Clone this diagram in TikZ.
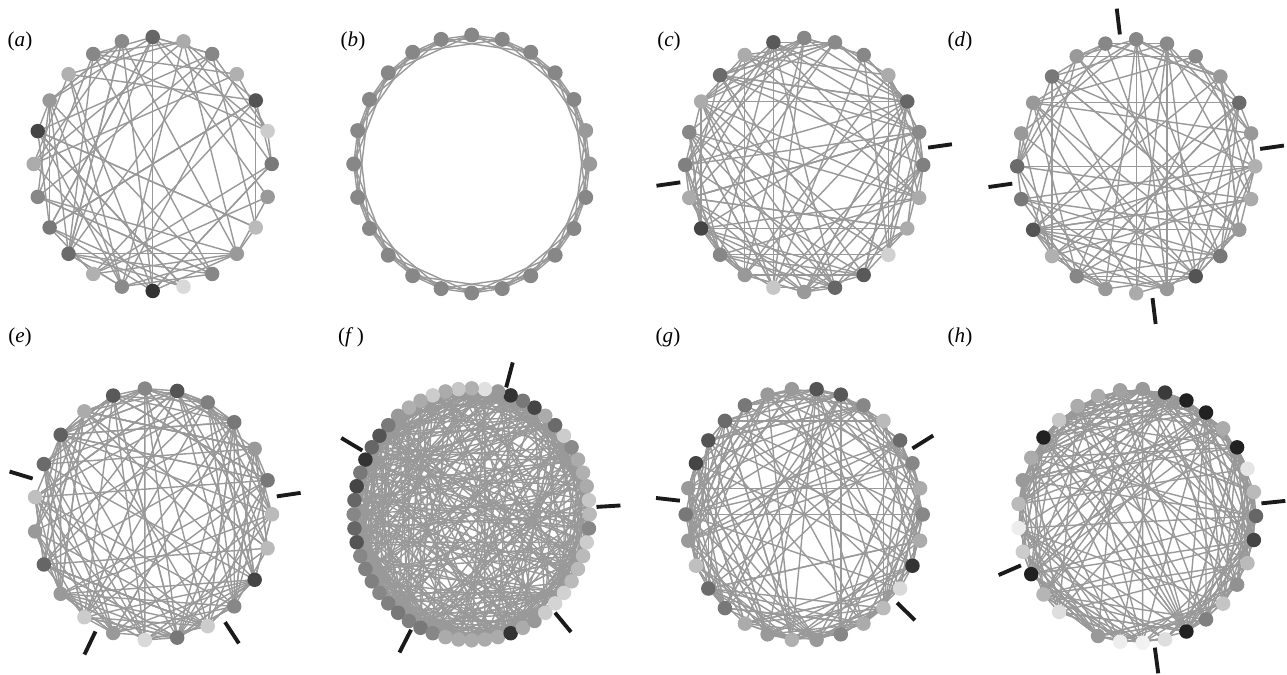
\documentclass[tikz,border=0pt]{standalone}
\usepackage{fontspec}
\setmainfont{Liberation Serif}
\usetikzlibrary{backgrounds}
\definecolor{EdgeGray}{HTML}{999999}
\definecolor{CutBlack}{HTML}{1A1A1A}
\newcommand{\shadesA}{52,20,67,31,47,33,60,46,47,31,40,73,33,47,53,58,31,46,80,15,47,40,27,40}
\newcommand{\shadesB}{40,40,47,47,47,47,47,47,47,47,47,47,47,47,47,47,47,47,47,47,47,47,47,47}
\newcommand{\shadesC}{50,46,60,33,47,46,47,65,33,58,33,47,50,33,73,47,40,22,40,60,65,18,33,33}
\newcommand{\shadesD}{31,40,58,40,46,46,47,47,40,53,40,40,58,53,67,31,47,40,33,40,67,53,40,33}
\newcommand{\shadesE}{27,53,40,53,50,67,47,65,33,62,58,25,40,60,40,20,40,15,53,20,47,73,27}
\newcommand{\shadesF}{27,22,33,31,33,46,20,58,33,73,53,80,40,12,31,22,33,20,33,31,40,52,67,60,80,53,73,60,47,60,67,47,50,50,47,50,53,50,53,47,33,33,33,33,33,80,33,40,20,17,18,27,27,27,20,47}
\newcommand{\shadesG}{47,33,47,58,27,47,65,67,40,40,53,58,67,73,40,53,40,25,58,53,33,40,31,40,47,33,27,15,80,33}
\newcommand{\shadesH}{60,27,10,87,33,87,87,77,40,37,33,33,22,87,33,40,27,7,20,87,29,13,40,7,5,13,87,50,23,43,27,73}

\begin{document}
\begin{tikzpicture}[
  x=0.2mm,y=0.2mm,
  vtx/.style={circle,inner sep=0pt,minimum size=2.9mm},
  edge/.style={draw=EdgeGray,line width=0.8pt},
  modcut/.style={draw=CutBlack,line width=2.2pt},
  lbl/.style={font=\fontsize{12}{14}\selectfont,inner sep=0pt}
]
\useasboundingbox (0,0) rectangle (1287,675);

\node[lbl] (la) at (20,634) {(\textit{a})};
\node[lbl] (lb) at (353,634) {(\textit{b})};
\node[lbl] (lc) at (669,634) {(\textit{c})};
\node[lbl] (ld) at (960,634) {(\textit{d})};
\node[lbl] (le) at (20,338) {(\textit{e})};
\node[lbl] (lf) at (351,338) {(\textit{f}\,)};
\node[lbl] (lg) at (668,338) {(\textit{g})};
\node[lbl] (lh) at (960,338) {(\textit{h})};

\begin{scope}[shift={(152.7,511)}]
  \foreach \g [count=\k from 0] in \shadesA
    \node[vtx,fill=black!\g] (a\k) at ({\k*15}:119 and 127) {};
  \begin{pgfonlayer}{background}
    \pgfmathsetseed{7}
    \foreach \g [count=\i from 0] in \shadesA {
      \pgfmathtruncatemacro{\m}{max(1,round(\g/13))}
      \foreach \t in {1,...,\m} {
        \pgfmathrandominteger{\r}{1}{23}
        \pgfmathtruncatemacro{\j}{mod(\i+\r,24)}
        \draw[edge] (a\i.center) -- (a\j.center);
      }
    }
  \end{pgfonlayer}
\end{scope}

\begin{scope}[shift={(471.7,511)}]
  \foreach \g [count=\k from 0] in \shadesB
    \node[vtx,minimum size=3mm,fill=black!\g] (b\k) at ({\k*15}:118 and 129) {};
  \begin{pgfonlayer}{background}
    \foreach \i in {0,...,23} {
      \foreach \d in {1,2,3} {
        \pgfmathtruncatemacro{\j}{mod(\i+\d,24)}
        \draw[edge] (b\i.center) -- (b\j.center);
      }
    }
  \end{pgfonlayer}
\end{scope}

\begin{scope}[shift={(804.2,510)}]
  \foreach \g [count=\k from 0] in \shadesC
    \node[vtx,fill=black!\g] (c\k) at ({\k*15}:119 and 127) {};
  \begin{pgfonlayer}{background}
    \pgfmathsetseed{21}
    \foreach \g [count=\i from 0] in \shadesC {
      \pgfmathtruncatemacro{\m}{max(1,round(\g/10))}
      \foreach \t in {1,...,\m} {
        \pgfmathrandominteger{\r}{1}{23}
        \pgfmathtruncatemacro{\j}{mod(\i+\r,24)}
        \draw[edge] (c\i.center) -- (c\j.center);
      }
      \pgfmathrandominteger{\r}{2}{4}
      \pgfmathtruncatemacro{\j}{mod(\i+\r,24)}
      \draw[edge] (c\i.center) -- (c\j.center);
    }
  \end{pgfonlayer}
  \foreach \a in {7.5,187.5}
    \draw[modcut] (\a:125 and 133) -- (\a:149 and 159);
\end{scope}

\begin{scope}[shift={(1136.2,508.7)}]
  \foreach \g [count=\k from 0] in \shadesD
    \node[vtx,fill=black!\g] (d\k) at ({\k*15}:119 and 127) {};
  \begin{pgfonlayer}{background}
    \pgfmathsetseed{33}
    \foreach \g [count=\i from 0] in \shadesD {
      \pgfmathtruncatemacro{\m}{max(1,round(\g/13))}
      \foreach \t in {1,...,\m} {
        \pgfmathrandominteger{\r}{1}{23}
        \pgfmathtruncatemacro{\j}{mod(\i+\r,24)}
        \draw[edge] (d\i.center) -- (d\j.center);
      }
      \pgfmathrandominteger{\r}{2}{5}
      \pgfmathtruncatemacro{\j}{mod(\i+\r,24)}
      \draw[edge] (d\i.center) -- (d\j.center);
    }
  \end{pgfonlayer}
  \foreach \a in {7.5,97.5,187.5,277.5}
    \draw[modcut] (\a:125 and 133) -- (\a:149 and 159);
\end{scope}

\begin{scope}[shift={(153,160.7)}]
  \foreach \g [count=\k from 0] in \shadesE
    \node[vtx,fill=black!\g] (e\k) at ({\k/23*360}:119 and 126) {};
  \begin{pgfonlayer}{background}
    \pgfmathsetseed{45}
    \foreach \g [count=\i from 0] in \shadesE {
      \pgfmathtruncatemacro{\m}{max(1,round(\g/9))}
      \foreach \t in {1,...,\m} {
        \pgfmathrandominteger{\r}{1}{22}
        \pgfmathtruncatemacro{\j}{mod(\i+\r,23)}
        \draw[edge] (e\i.center) -- (e\j.center);
      }
      \foreach \t in {1,2,3} {
        \pgfmathrandominteger{\r}{2}{6}
        \pgfmathtruncatemacro{\j}{mod(\i+\r,23)}
        \draw[edge] (e\i.center) -- (e\j.center);
      }
    }
  \end{pgfonlayer}
  \foreach \a in {7.8,164.3,242.6,305.2}
    \draw[modcut] (\a:125 and 132) -- (\a:149 and 158);
\end{scope}

\begin{scope}[shift={(471.7,160.7)}]
  \foreach \g [count=\k from 0] in \shadesF
    \node[vtx,fill=black!\g] (f\k) at ({\k/56*360}:118 and 126) {};
  \begin{pgfonlayer}{background}
    \pgfmathsetseed{58}
    \foreach \g [count=\i from 0] in \shadesF {
      \pgfmathtruncatemacro{\m}{max(1,round(\g/7))}
      \foreach \t in {1,...,\m} {
        \pgfmathrandominteger{\r}{1}{55}
        \pgfmathtruncatemacro{\j}{mod(\i+\r,56)}
        \draw[edge] (f\i.center) -- (f\j.center);
      }
      \foreach \t in {1,...,4} {
        \pgfmathrandominteger{\r}{2}{10}
        \pgfmathtruncatemacro{\j}{mod(\i+\r,56)}
        \draw[edge] (f\i.center) -- (f\j.center);
      }
    }
  \end{pgfonlayer}
  \foreach \a in {3.2,74,151.1,241,311.8}
    \draw[modcut] (\a:125 and 132) -- (\a:149 and 158);
\end{scope}

\begin{scope}[shift={(804.2,160.5)}]
  \foreach \g [count=\k from 0] in \shadesG
    \node[vtx,fill=black!\g] (g\k) at ({\k*12}:118.5 and 126) {};
  \begin{pgfonlayer}{background}
    \pgfmathsetseed{64}
    \foreach \g [count=\i from 0] in \shadesG {
      \pgfmathtruncatemacro{\m}{max(1,round(\g/12))}
      \foreach \t in {1,...,\m} {
        \pgfmathrandominteger{\r}{1}{29}
        \pgfmathtruncatemacro{\j}{mod(\i+\r,30)}
        \draw[edge] (g\i.center) -- (g\j.center);
      }
      \foreach \t in {1,2,3} {
        \pgfmathrandominteger{\r}{2}{7}
        \pgfmathtruncatemacro{\j}{mod(\i+\r,30)}
        \draw[edge] (g\i.center) -- (g\j.center);
      }
    }
  \end{pgfonlayer}
  \foreach \a in {30,174,318}
    \draw[modcut] (\a:125 and 132) -- (\a:149 and 158);
\end{scope}

\begin{scope}[shift={(1137,159)}]
  \foreach \g [count=\k from 0] in \shadesH
    \node[vtx,fill=black!\g] (h\k) at ({(\k+(\k>21))/33*360}:119 and 127) {};
  \begin{pgfonlayer}{background}
    \pgfmathsetseed{81}
    \foreach \g [count=\i from 0] in \shadesH {
      \pgfmathtruncatemacro{\m}{max(1,round(\g/8))}
      \foreach \t in {1,...,\m} {
        \pgfmathrandominteger{\r}{1}{31}
        \pgfmathtruncatemacro{\j}{mod(\i+\r,32)}
        \draw[edge] (h\i.center) -- (h\j.center);
      }
      \foreach \t in {1,2,3} {
        \pgfmathrandominteger{\r}{2}{7}
        \pgfmathtruncatemacro{\j}{mod(\i+\r,32)}
        \draw[edge] (h\i.center) -- (h\j.center);
      }
    }
  \end{pgfonlayer}
  \foreach \a in {5.45,201.8,278.2}
    \draw[modcut] (\a:125 and 133) -- (\a:149 and 159);
\end{scope}
\end{tikzpicture}
\end{document}
